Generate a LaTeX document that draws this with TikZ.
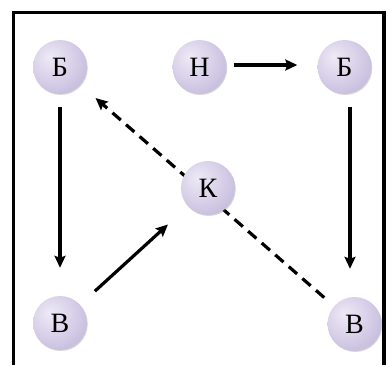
\documentclass[tikz,border=0pt]{standalone}
\usepackage{fontspec}
\setmainfont{Liberation Serif}
\usetikzlibrary{arrows.meta, shadows, positioning}
\definecolor{plight}{HTML}{EEEAF6}
\definecolor{pmid}{HTML}{D5CDE7}
\definecolor{pdark}{HTML}{AFA3CB}
\pgfdeclareradialshading{pball}{\pgfpoint{-10bp}{10bp}}{%
  color(0bp)=(plight); color(22bp)=(pmid); color(50bp)=(pdark); color(70bp)=(pdark)}
\newcommand\pfont{\fontsize{28}{28}\selectfont}
\tikzset{
  % cerchio lilla con la lettera
  pnode/.style={circle, shading=pball, minimum size=54pt, inner sep=0pt,
    font=\pfont,
    drop shadow={shadow xshift=0.8pt, shadow yshift=-1pt, opacity=0.3, fill=black!50}},
  % freccia piena
  arr/.style={-{Stealth[length=12pt, width=11pt, inset=2pt]}, line width=3.2pt},
  % freccia tratteggiata
  arrdash/.style={arr, dash pattern=on 11pt off 7pt},
  % cornice
  frame/.style={line width=3.6pt},
}
\begin{document}
\begin{tikzpicture}[x=1pt, y=-1pt]
  \useasboundingbox (0,0) rectangle (387,365);
  \draw[frame] (13.5,365) -- (13.5,12.5) -- (384,12.5) -- (384,365);
  \node[pnode] (b1) at (60,67) {Б};
  \node[pnode] (n) at (199.5,67) {Н};
  \node[pnode] (b2) at (344.5,67) {Б};
  \node[pnode] (v1) at (60,323) {В};
  \node[pnode] (v2) at (354.5,324) {В};
  \draw[arrdash, shorten <=13pt, shorten >=20pt] (v2) -- (b1);
  \node[pnode] (k) at (208,188) {К};
  \draw[arr, shorten <=7pt, shorten >=20pt] ([yshift=2pt]n.east) -- ([yshift=2pt]b2.west);
  \draw[arr, shorten <=13pt, shorten >=28pt] (b1.south) -- (v1.north);
  \draw[arr, shorten <=13pt, shorten >=28pt] ([xshift=5.5pt]b2.south) -- ([xshift=5.5pt]b2.south |- v2.north);
  \draw[arr, shorten <=20pt, shorten >=27pt] (v1) -- (k);
\end{tikzpicture}
\end{document}
